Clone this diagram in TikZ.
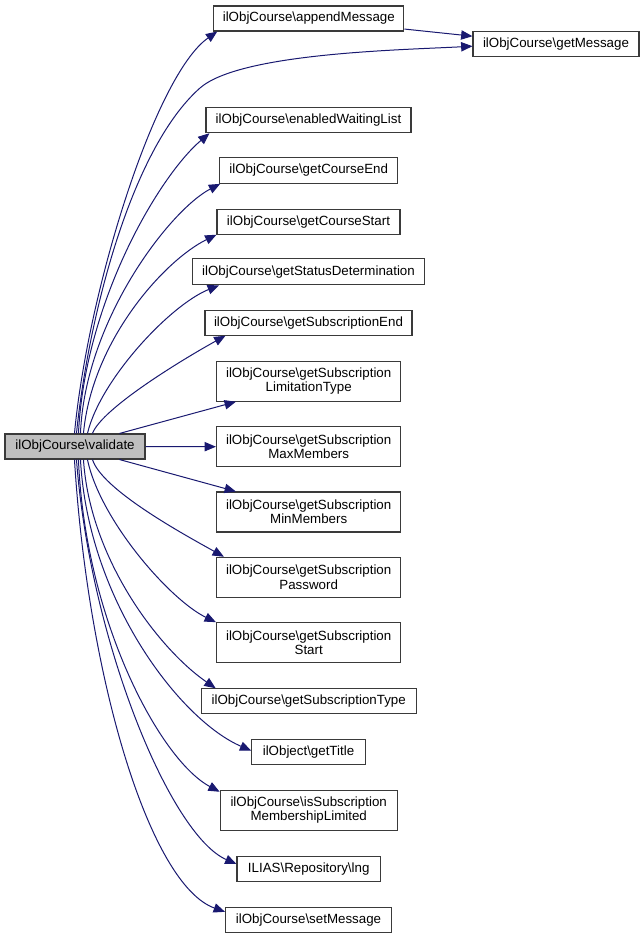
\documentclass[tikz,border=0pt]{standalone}
\usepackage{fontspec}
\setmainfont{Liberation Sans}
\usetikzlibrary{arrows.meta,calc}
\definecolor{edgeblue}{HTML}{191970}
\definecolor{boxgray}{HTML}{BFBFBF}
\definecolor{boxline}{HTML}{3A3A3A}
\begin{document}
\begin{tikzpicture}[x=0.75pt,y=-0.75pt,
  box/.style={draw=boxline, line width=0.8pt, fill=white, inner sep=1pt,
    font=\fontsize{10pt}{10.75pt}\selectfont, align=center},
  sz/.style 2 args={minimum width=#1*0.75pt, minimum height=#2*0.75pt},
  call/.style={draw=edgeblue, line width=0.75pt, -{Triangle[length=8.5pt,width=7pt]}}
]
\useasboundingbox (0,0) rectangle (641,939);

\node[box, sz={140}{25}, fill=boxgray] (validate) at (75,446.5) {ilObjCourse\textbackslash validate};
\node[box, sz={190}{25}] (append) at (308.8,18.5) {ilObjCourse\textbackslash appendMessage};
\node[box, sz={166}{25}] (getmsg) at (556,44.2) {ilObjCourse\textbackslash getMessage};
\node[box, sz={205}{25}] (enabled) at (308.5,120.2) {ilObjCourse\textbackslash enabledWaitingList};
\node[box, sz={178}{26}] (cend) at (308.7,170.3) {ilObjCourse\textbackslash getCourseEnd};
\node[box, sz={183}{25}] (cstart) at (308.5,221.7) {ilObjCourse\textbackslash getCourseStart};
\node[box, sz={232}{26}] (status) at (308.5,271.8) {ilObjCourse\textbackslash getStatusDetermination};
\node[box, sz={207}{25}] (subend) at (308.5,322.7) {ilObjCourse\textbackslash getSubscriptionEnd};
\node[box, sz={184.5}{40}] (limtype) at (308.7,381.2) {ilObjCourse\textbackslash getSubscription\\LimitationType};
\node[box, sz={184.5}{40}] (maxm) at (308.7,446.7) {ilObjCourse\textbackslash getSubscription\\MaxMembers};
\node[box, sz={184.5}{40}] (minm) at (308.7,512) {ilObjCourse\textbackslash getSubscription\\MinMembers};
\node[box, sz={184.5}{40}] (pwd) at (308.7,577.3) {ilObjCourse\textbackslash getSubscription\\Password};
\node[box, sz={184.5}{40}] (sstart) at (308.7,642.7) {ilObjCourse\textbackslash getSubscription\\Start};
\node[box, sz={215}{25}] (subtype) at (308.7,701.3) {ilObjCourse\textbackslash getSubscriptionType};
\node[box, sz={113.4}{25}] (title) at (308.5,751.7) {ilObject\textbackslash getTitle};
\node[box, sz={177}{40}] (issub) at (308.7,810.3) {ilObjCourse\textbackslash isSubscription\\MembershipLimited};
\node[box, sz={143.4}{25}] (lng) at (308.7,869) {ILIAS\textbackslash Repository\textbackslash lng};
\node[box, sz={166}{25}] (setmsg) at (308.5,919.8) {ilObjCourse\textbackslash setMessage};

% upward calls
\draw[call] ($(validate.north west)+(70,0)$) .. controls (88,290) and (155,75) .. ($(append.south west)+(4,0)$);
\draw[call] ($(validate.north west)+(72,0)$) .. controls (88,320) and (130,150) .. (200,88)
   .. controls (240,53) and (400,50) .. ($(getmsg.west)+(0,2)$);
\draw[call] ($(validate.north west)+(74,0)$) .. controls (85,300) and (160,175) .. ($(enabled.south west)+(4,0)$);
\draw[call] ($(validate.north west)+(76,0)$) .. controls (85,320) and (170,210) .. ($(cend.south west)+(1,0)$);
\draw[call] ($(validate.north west)+(79,0)$) .. controls (92,340) and (165,260) .. (cstart.south west);
\draw[call] ($(validate.north west)+(83,0)$) .. controls (100,380) and (170,305) .. ($(status.south west)+(27,0)$);
\draw[call] ($(validate.north west)+(88,0)$) .. controls (102,408) and (185,358) .. ($(subend.south west)+(21,0)$);
\draw[call] ($(validate.north west)+(115,0)$) -- ($(limtype.south west)+(20,0)$);
% straight
\draw[call] (validate.east) -- (maxm.west);
% downward calls
\draw[call] ($(validate.south west)+(115,0)$) -- ($(minm.north west)+(20,0)$);
\draw[call] ($(validate.south west)+(88,0)$) .. controls (102,490) and (185,535) .. ($(pwd.north west)+(8,0)$);
\draw[call] ($(validate.south west)+(83,0)$) .. controls (100,520) and (170,600) .. (sstart.north west);
\draw[call] ($(validate.south west)+(79,0)$) .. controls (90,560) and (160,650) .. ($(subtype.north west)+(15,0)$);
\draw[call] ($(validate.south west)+(76,0)$) .. controls (88,600) and (180,720) .. ($(title.west)+(0,-1)$);
\draw[call] ($(validate.south west)+(74,0)$) .. controls (85,620) and (160,760) .. ($(issub.north west)+(0,2)$);
\draw[call] ($(validate.south west)+(72,0)$) .. controls (90,640) and (170,835) .. ($(lng.west)+(0,-5)$);
\draw[call] ($(validate.south west)+(70,0)$) .. controls (88,680) and (150,885) .. ($(setmsg.west)+(0,-8)$);
% second level
\draw[call] ($(append.south east)+(0,-2.5)$) -- ($(getmsg.west)+(0,-8)$);
\end{tikzpicture}
\end{document}
